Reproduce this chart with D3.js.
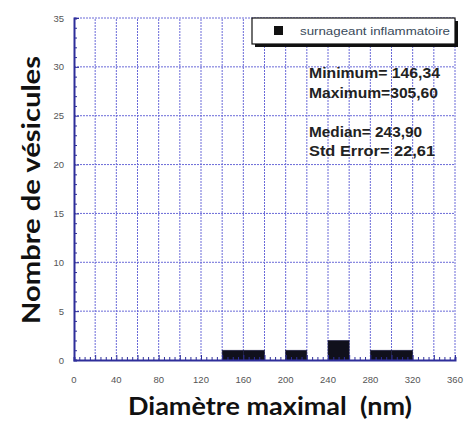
<!DOCTYPE html>
<html>
<head>
<meta charset="utf-8">
<script src="https://cdn.jsdelivr.net/npm/d3@7"></script>
<style>
  body { margin: 0; background: #fff; }
  svg { display: block; }
</style>
</head>
<body>
<svg id="chart" width="465" height="421"></svg>
<script>
// histogram bins (nm) and counts
const binStarts = [0, 20, 40, 60, 80, 100, 120, 140, 160, 180, 200, 220, 240, 260, 280, 300, 320, 340];
const counts    = [0, 0, 0, 0, 0, 0, 0, 1, 1, 0, 1, 0, 2, 0, 1, 1, 0, 0];
const binWidth = 20;

const xTicks = [0, 40, 80, 120, 160, 200, 240, 280, 320, 360];
const yTicks = [0, 5, 10, 15, 20, 25, 30, 35];

const legendLabel = "surnageant inflammatoire";
const statsLines = ["Minimum= 146,34", "Maximum=305,60", "", "Median= 243,90", "Std Error= 22,61"];
const statsWidths = [131, 129, 0, 113, 126];

const xTitle = "Diamètre maximal  (nm)";
const yTitle = "Nombre de vésicules";

const svg = d3.select("#chart");
const margin = { left: 74, right: 10, top: 18, bottom: 61 };
const width = 465 - margin.left - margin.right;
const height = 421 - margin.top - margin.bottom;

const x = d3.scaleLinear().domain([0, 360]).range([margin.left, margin.left + width]);
const y = d3.scaleLinear().domain([0, 35]).range([margin.top + height, margin.top]);

const axisColor = "#2e2e9a";
const gridColor = "#6a6ad8";

// grid
const grid = svg.append("g");
grid.selectAll("line.v")
  .data(d3.range(20, 361, 20))
  .join("line")
  .attr("x1", d => x(d)).attr("x2", d => x(d))
  .attr("y1", y(0)).attr("y2", y(35))
  .attr("stroke", gridColor).attr("stroke-width", 1)
  .attr("stroke-dasharray", "2,1");
grid.selectAll("line.h")
  .data(yTicks.slice(1))
  .join("line")
  .attr("x1", x(0)).attr("x2", x(360))
  .attr("y1", d => y(d)).attr("y2", d => y(d))
  .attr("stroke", gridColor).attr("stroke-width", 1)
  .attr("stroke-dasharray", "2,1");

// bars
svg.append("g").selectAll("rect")
  .data(binStarts.map((b, i) => ({ b, c: counts[i] })).filter(d => d.c > 0))
  .join("rect")
  .attr("x", d => x(d.b))
  .attr("width", d => x(d.b + binWidth) - x(d.b))
  .attr("y", d => y(d.c))
  .attr("height", d => y(0) - y(d.c))
  .attr("fill", "#10101c")
  .attr("stroke", "#22224a")
  .attr("stroke-width", 0.6);

// axes with inward ticks
const xAxis = d3.axisBottom(x).tickValues(d3.range(0, 361, 5)).tickSize(-3).tickFormat("");
const gx = svg.append("g").attr("transform", `translate(0,${y(0)})`).call(xAxis);
gx.select(".domain").attr("stroke", axisColor).attr("stroke-width", 2);
gx.selectAll(".tick line").attr("stroke", axisColor).attr("stroke-width", 1)
  .attr("y2", d => d % 20 === 0 ? -5 : -3);

const yAxis = d3.axisLeft(y).tickValues(d3.range(0, 36, 1)).tickSize(-3).tickFormat("");
const gy = svg.append("g").attr("transform", `translate(${x(0)},0)`).call(yAxis);
gy.select(".domain").attr("stroke", axisColor).attr("stroke-width", 2);
gy.selectAll(".tick line").attr("stroke", axisColor).attr("stroke-width", 1)
  .attr("x2", d => d % 5 === 0 ? 5 : 3);

// tick labels
svg.append("g").selectAll("text")
  .data(xTicks)
  .join("text")
  .attr("x", d => x(d))
  .attr("y", y(0) + 23)
  .attr("text-anchor", "middle")
  .attr("font-family", "Liberation Sans, Arial, sans-serif")
  .attr("font-size", 9.5)
  .attr("fill", "#555")
  .text(d => d);

svg.append("g").selectAll("text")
  .data(yTicks)
  .join("text")
  .attr("x", x(0) - 10)
  .attr("y", d => y(d) + 3.5)
  .attr("text-anchor", "end")
  .attr("font-family", "Liberation Sans, Arial, sans-serif")
  .attr("font-size", 9.5)
  .attr("fill", "#555")
  .text(d => d);

// legend box with shadow
const lg = svg.append("g");
lg.append("rect").attr("x", 255).attr("y", 21).attr("width", 203).attr("height", 26).attr("fill", "#111");
lg.append("rect").attr("x", 252).attr("y", 18).attr("width", 203).attr("height", 26)
  .attr("fill", "#fff").attr("stroke", "#111").attr("stroke-width", 1.2);
lg.append("rect").attr("x", 274).attr("y", 26).attr("width", 9).attr("height", 9).attr("fill", "#111");
lg.append("text").attr("x", 300).attr("y", 35)
  .attr("font-family", "Liberation Sans, Arial, sans-serif")
  .attr("font-size", 11.5).attr("fill", "#3a4a5a")
  .attr("textLength", 150).attr("lengthAdjust", "spacingAndGlyphs")
  .text(legendLabel);

// stats text
svg.append("g").selectAll("text")
  .data(statsLines)
  .join("text")
  .attr("x", 309)
  .attr("y", (d, i) => 78 + i * 19.5)
  .attr("font-family", "Liberation Sans, Arial, sans-serif")
  .attr("font-weight", "bold")
  .attr("font-size", 14.5)
  .attr("fill", "#222")
  .attr("textLength", (d, i) => statsWidths[i] || null)
  .attr("lengthAdjust", "spacingAndGlyphs")
  .text(d => d);

// axis titles
svg.append("text")
  .attr("x", 270).attr("y", 415)
  .attr("text-anchor", "middle")
  .attr("font-family", "Lato, 'Open Sans', sans-serif")
  .attr("font-weight", "bold")
  .attr("font-size", 24)
  .attr("fill", "#111")
  .attr("textLength", 284).attr("lengthAdjust", "spacingAndGlyphs")
  .style("white-space", "pre")
  .text(xTitle);

svg.append("text")
  .attr("transform", "translate(40,190) rotate(-90)")
  .attr("text-anchor", "middle")
  .attr("font-family", "Lato, 'Open Sans', sans-serif")
  .attr("font-weight", "bold")
  .attr("font-size", 24)
  .attr("fill", "#111")
  .attr("textLength", 268).attr("lengthAdjust", "spacingAndGlyphs")
  .text(yTitle);
</script>
</body>
</html>
